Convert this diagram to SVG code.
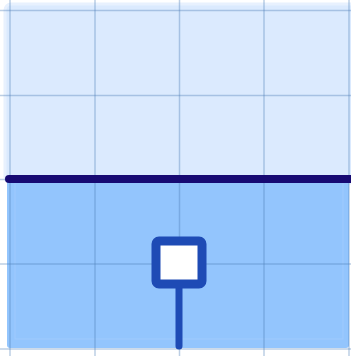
<svg xmlns="http://www.w3.org/2000/svg" width="351" height="356" viewBox="0 0 351 356">
<style>
.grid{stroke:#4f7fb8;stroke-opacity:0.38;stroke-width:1.5;fill:none}
</style>
<rect width="351" height="356" fill="#ffffff"/>
<g id="region-top">
<rect x="5" y="4" width="352" height="179" rx="6" fill="#dbeafe" stroke="#e8f1fe" stroke-width="3"/>
</g>
<g id="region-bottom">
<rect x="7" y="179" width="342" height="169" rx="3" fill="#93c5fd"/>
<rect x="15" y="179" width="328" height="160" fill="none" stroke="#9fcafd" stroke-width="1"/>
</g>
<g id="grid">
<line class="grid" x1="10" y1="0" x2="10" y2="356"/>
<line class="grid" x1="95" y1="0" x2="95" y2="356"/>
<line class="grid" x1="179.5" y1="0" x2="179.5" y2="356"/>
<line class="grid" x1="264" y1="0" x2="264" y2="356"/>
<line class="grid" x1="349" y1="0" x2="349" y2="356"/>
<line class="grid" x1="0" y1="10.5" x2="351" y2="10.5"/>
<line class="grid" x1="0" y1="95.5" x2="351" y2="95.5"/>
<line class="grid" x1="0" y1="179.5" x2="351" y2="179.5"/>
<line class="grid" x1="0" y1="264" x2="351" y2="264"/>
<line class="grid" x1="0" y1="349" x2="351" y2="349"/>
</g>
<g id="connectors">
<line x1="9" y1="179" x2="351" y2="179" stroke="#170a73" stroke-width="8" stroke-linecap="round"/>
<line x1="179" y1="288" x2="179" y2="346" stroke="#1e4bb5" stroke-width="7" stroke-linecap="round"/>
</g>
<g id="node-square">
<rect x="156" y="241" width="46" height="43" rx="3" fill="#ffffff" stroke="#1e4bb5" stroke-width="9"/>
</g>
</svg>
